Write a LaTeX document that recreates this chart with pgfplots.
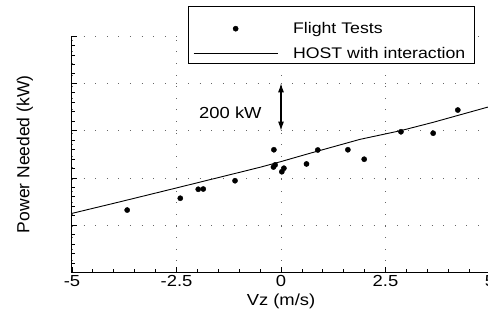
\documentclass[border=0pt]{standalone}
\usepackage{fontspec}
\setmainfont{Liberation Sans}[FakeStretch=1.15]
\newfontfamily\ylf{Liberation Sans}
\usepackage{pgfplots}
\pgfplotsset{compat=1.18}
\usetikzlibrary{arrows.meta}
\newcommand\f{\fontsize{16pt}{19pt}\selectfont}
\begin{document}
\begin{tikzpicture}
\begin{axis}[
  at={(72pt,38.5pt)}, anchor=south west,
  scale only axis, width=418pt, height=236.5pt,
  xmin=-5, xmax=5, ymin=0, ymax=1000,
  clip=false,
  axis x line*=bottom, axis y line*=left,
  axis line style={line width=1pt},
  xtick={-5,-2.5,0,2.5,5}, xticklabels={-5,-2.5,0,2.5,5},
  ytick={0,200,...,1000}, yticklabels={},
  minor x tick num=4, minor y tick num=4,
  tick align=inside, major tick length=5pt, minor tick length=3pt,
  every tick/.style={black, line width=0.8pt},
  grid=major,
  major grid style={black!60, line width=0.6pt, dash pattern=on 0.6pt off 11pt},
  xticklabel style={font=\f, inner sep=0pt, yshift=-3pt},
  xlabel={Vz (m/s)}, ylabel={Power Needed (kW)},
  xlabel style={font=\f, at={(axis description cs:0.5,-0.1395)}, anchor=base},
  ylabel style={font=\ylf\fontsize{17.5pt}{20pt}\selectfont, at={(axis description cs:-0.1017,0.5)}, anchor=base},
  legend style={font=\fontsize{15.4pt}{18pt}\selectfont, at={(axis description cs:0.2895,1.0677)}, anchor=north west,
    draw=none, fill=none, inner sep=0pt,
    row sep=8pt, column sep=13pt,
    cells={anchor=west, inner sep=0pt, text height=11.5pt, text depth=3pt}},
  legend cell align=left,
]
\addplot[only marks, mark=*, mark size=2.6pt, black,
  legend image code/.code={\fill[black] (42pt,0pt) circle (2.6pt);}]
 coordinates {
 (-3.68,264) (-2.41,314) (-1.98,352) (-1.86,353) (-1.10,388)
 (-0.17,519) (-0.18,446) (-0.14,455) (0.02,426) (0.07,441)
 (0.61,459) (0.88,518) (1.60,519) (1.99,479) (2.87,595)
 (3.64,589) (4.23,687)
 };
\addlegendentry{Flight Tests}
\addplot[black, line width=0.9pt, mark=none,
  legend image code/.code={\draw[black, line width=0.9pt] (0pt,0pt) -- (84pt,0pt);}]
 coordinates {
 (-5.0,250) (-3.85,299) (-2.49,358) (-0.50,445) (-0.02,468) (0.69,504)
 (1.89,563) (2.87,600) (3.64,635) (4.92,698) (5.0,701)
 };
\addlegendentry{HOST with interaction}
\draw[{Latex[length=9pt,width=6pt]}-{Latex[length=9pt,width=6pt]}, line width=1.1pt]
  (axis cs:0,600) -- (axis cs:0,800);
\node[font=\f, anchor=center] at (axis cs:-1.21,675) {200 kW};
\draw[fill=white, line width=0.8pt] (axis description cs:0.2775,1.1239) rectangle (axis description cs:0.9617,0.8858);
\end{axis}
\pgfresetboundingbox
\useasboundingbox (0,0) rectangle (488pt,311pt);
\end{tikzpicture}
\end{document}
